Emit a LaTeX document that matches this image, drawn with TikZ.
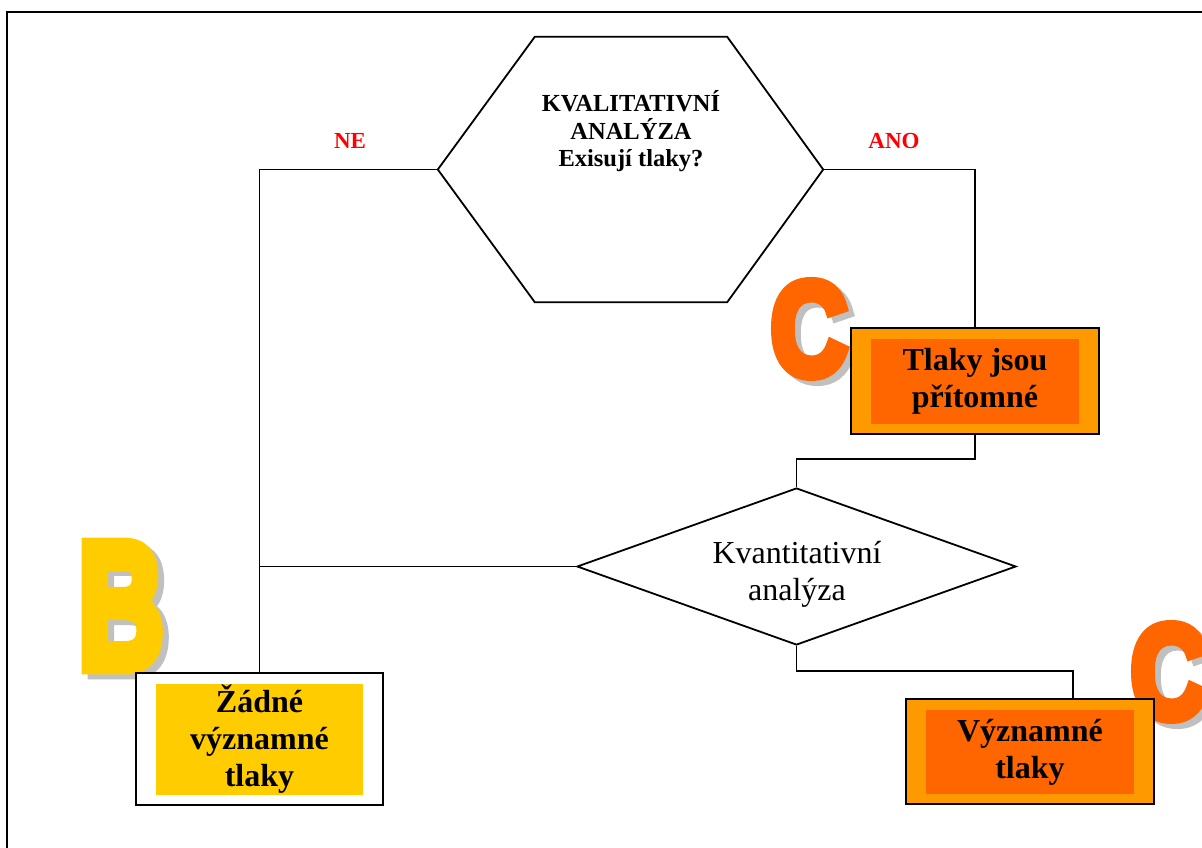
\documentclass[tikz,border=0pt]{standalone}
\usepackage{fontspec}
\setmainfont{Liberation Serif}
\newfontfamily\wordart[FakeBold=8]{Liberation Sans Bold}
\usetikzlibrary{shapes.geometric,calc}

\definecolor{boxorange}{HTML}{FF9900}
\definecolor{boxred}{HTML}{FF6600}
\definecolor{boxyellow}{HTML}{FFCC00}
\definecolor{shadowgray}{HTML}{C0C0C0}
\definecolor{labelred}{HTML}{FF0000}

\begin{document}
\begin{tikzpicture}[x=1pt,y=-1pt,
  conn/.style={draw=black,line width=1.8pt},
  outerbox/.style={draw=black,line width=1.8pt,minimum width=248pt,minimum height=106pt,inner sep=0pt},
  innerbox/.style={minimum width=208pt,minimum height=85pt,inner sep=0pt,align=center,
    font=\fontsize{32}{37}\selectfont\bfseries},
  bigletter/.style={inner sep=0pt,font=\wordart\fontsize{132}{132}\selectfont},
  bigB/.style={inner sep=0pt,font=\wordart\fontsize{178}{178}\selectfont},
  answer/.style={text=labelred,font=\fontsize{23}{27}\selectfont\bfseries}]

\useasboundingbox (0,0) rectangle (1202,848);
\clip (0,0) rectangle (1202,848);
\fill[white] (0,0) rectangle (1202,848);

% page frame
\draw[line width=2.5pt] (7,870) -- (7,12) -- (1220,12);

% decorative category letters with drop shadows
\node[bigletter,text=shadowgray] (c1s) at (815,334) {\scalebox{0.8}[1]{C}};
\node[bigletter,text=boxred] (c1) at (809,329) {\scalebox{0.8}[1]{C}};
\node[bigB,text=shadowgray] (bs) at (127,611) {\scalebox{0.66}[1]{B}};
\node[bigB,text=boxyellow] (b) at (121,606) {\scalebox{0.66}[1]{B}};
\node[bigletter,text=shadowgray] (c2s) at (1175,677) {\scalebox{0.8}[1]{C}};
\node[bigletter,text=boxred] (c2) at (1169,672) {\scalebox{0.8}[1]{C}};

% qualitative analysis: hexagon
\node[minimum width=385pt,minimum height=265pt,inner sep=0pt] (hex) at (630.5,169.5) {};
\draw[conn] (hex.west) -- ($(hex.north west)+(97,0)$) -- ($(hex.north east)+(-96,0)$)
  -- (hex.east) -- ($(hex.south east)+(-96,0)$) -- ($(hex.south west)+(97,0)$) -- cycle;
\node[align=center,font=\fontsize{24.5}{27.5}\selectfont\bfseries] (hexlabel) at (631,131.5)
  {KVALITATIVNÍ\\ANALÝZA\\Exisují tlaky?};

\node[answer] (ne) at (350,141) {NE};
\node[answer] (ano) at (894,141) {ANO};

% quantitative analysis: diamond
\node[diamond,draw,line width=1.8pt,aspect=2.8,minimum width=439pt,minimum height=157pt,
  inner sep=0pt] (kvant) at (796.5,566.5) {};
\node[align=center,font=\fontsize{32}{37}\selectfont] (kvantlabel) at (797,574)
  {Kvantitativní\\analýza};

% result boxes
\node[outerbox,fill=boxorange] (tlaky) at (975,381) {};
\node[innerbox,fill=boxred] (tlakyin) at (975,381.5) {Tlaky jsou\\přítomné};

\node[outerbox,fill=white,minimum width=247pt,minimum height=132pt] (zadne) at (259.5,739) {};
\node[innerbox,fill=boxyellow,minimum width=207pt,minimum height=111pt] (zadnein) at (259.5,739.5)
  {Žádné\\významné\\tlaky};

\node[outerbox,fill=boxorange,minimum height=105pt] (vyz) at (1030,751.5) {};
\node[innerbox,fill=boxred,minimum height=84pt] (vyzin) at (1030,752) {Významné\\tlaky};

% connectors
\coordinate (vyzentry) at ($(vyz.north east)+(-82,0)$);
\draw[conn] (hex.west) -| (zadne.north);
\draw[conn] (kvant.west) -- (zadne.north |- kvant.west);
\draw[conn] (hex.east) -| (tlaky.north);
\draw[conn] (tlaky.south) |- ($(kvant.north)+(0,-28)$) -- (kvant.north);
\draw[conn] (kvant.south) |- ($(vyzentry)+(0,-27)$) -- (vyzentry);
\end{tikzpicture}
\end{document}
